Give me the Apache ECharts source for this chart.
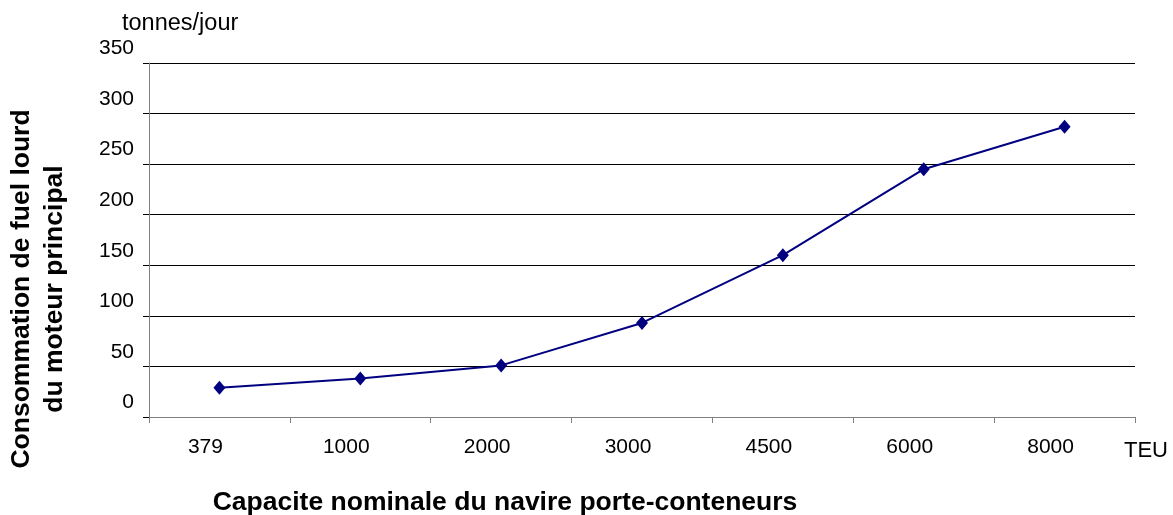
<!DOCTYPE html>
<html>
<head>
<meta charset="utf-8">
<script src="https://cdn.jsdelivr.net/npm/echarts@6/dist/echarts.min.js"></script>
<style>
html,body{margin:0;padding:0;background:#fff;}
#chart{width:1173px;height:515px;}
</style>
</head>
<body>
<div id="chart"></div>
<script>
const categories = ['379', '1000', '2000', '3000', '4500', '6000', '8000'];
const consumption = [29, 38, 51, 93, 160, 245, 287];
const yTicks = { min: 0, max: 350, interval: 50 };
const yUnit = 'tonnes/jour';
const xUnit = 'TEU';
const xTitle = 'Capacite nominale du navire porte-conteneurs';
const yTitle = 'Consommation de fuel lourd\ndu moteur principal';

const font = '"Liberation Sans", Arial, sans-serif';
const chart = echarts.init(document.getElementById('chart'));
chart.setOption({
  animation: false,
  backgroundColor: '#fff',
  grid: { left: 149, right: 38, top: 63, bottom: 98, containLabel: false },
  xAxis: {
    type: 'category',
    data: categories,
    boundaryGap: true,
    axisLine: { show: true, lineStyle: { color: '#808080', width: 1 } },
    axisTick: { show: true, length: 6, lineStyle: { color: '#808080' } },
    axisLabel: { color: '#000', fontFamily: font, fontSize: 21, margin: 20, padding: [0, 28, 0, 0] },
    splitLine: { show: false }
  },
  yAxis: {
    type: 'value',
    min: yTicks.min, max: yTicks.max, interval: yTicks.interval,
    axisLine: { show: true, lineStyle: { color: '#808080', width: 1 } },
    axisTick: { show: true, length: 6, lineStyle: { color: '#000' } },
    axisLabel: { color: '#000', fontFamily: font, fontSize: 21, margin: 15, verticalAlign: 'bottom', padding: [0, 0, 4, 0] },
    splitLine: { show: true, lineStyle: { color: '#000', width: 1 } }
  },
  series: [{
    type: 'line',
    data: consumption,
    symbol: 'diamond',
    symbolSize: [12, 14],
    lineStyle: { color: '#000080', width: 2 },
    itemStyle: { color: '#000080' }
  }],
  graphic: [
    { type: 'text', x: 122, y: 24, style: { text: yUnit, font: '23.5px ' + font, fill: '#000', verticalAlign: 'middle' } },
    { type: 'text', x: 1124, y: 451, style: { text: xUnit, font: '22px ' + font, fill: '#000', verticalAlign: 'middle' } },
    { type: 'text', x: 505, y: 503, style: { text: xTitle, font: 'bold 26.5px ' + font, fill: '#000', align: 'center', verticalAlign: 'middle' } },
    { type: 'text', x: 38, y: 289, rotation: Math.PI / 2, style: { text: yTitle, font: 'bold 26.5px ' + font, fill: '#000', align: 'center', verticalAlign: 'middle', lineHeight: 33 } }
  ]
});
</script>
</body>
</html>
